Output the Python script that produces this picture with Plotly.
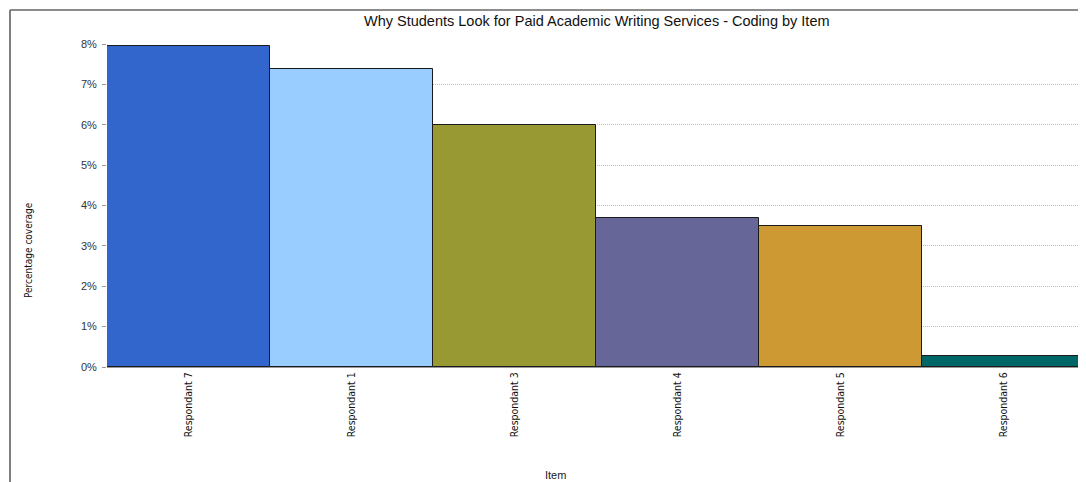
import plotly.graph_objects as go

categories = ["Respondant 7", "Respondant 1", "Respondant 3", "Respondant 4", "Respondant 5", "Respondant 6"]
coverage = [7.95, 7.37, 6.0, 3.68, 3.49, 0.28]
bar_colors = ["#3366CC", "#99CCFF", "#999933", "#666699", "#CC9933", "#006666"]
y_ticks = [0, 1, 2, 3, 4, 5, 6, 7, 8]
y_tick_labels = [f"{v}%" for v in y_ticks]

OFF = 8  # page offset of the figure (body margin)
W, H = 1086, 482
L, T = 99, 36
PLOT_RIGHT, PLOT_BOTTOM = 1077, 359
R = W - PLOT_RIGHT
B = H - PLOT_BOTTOM
pw = PLOT_RIGHT - L
ph = PLOT_BOTTOM - T

def px_x(x):
    return (x - OFF - L) / pw

def px_y(y):
    return (PLOT_BOTTOM - (y - OFF)) / ph

NARROW = "DejaVu Sans Condensed, Liberation Sans Narrow, Arial Narrow, sans-serif"

fig = go.Figure(
    go.Bar(
        x=categories,
        y=coverage,
        width=1,
        marker=dict(color=bar_colors, line=dict(color="#1a1a1a", width=1)),
        hovertemplate="%{x}: %{y}%<extra></extra>",
    )
)

fig.update_layout(
    width=W,
    height=H,
    margin=dict(l=L, r=R, t=T, b=B),
    paper_bgcolor="white",
    plot_bgcolor="white",
    bargap=0,
    showlegend=False,
    font=dict(family="Liberation Sans, Arial, sans-serif", color="#222"),
    xaxis=dict(
        tickangle=-90,
        tickfont=dict(family=NARROW, size=10.5, color="#111"),
        showgrid=False,
        showline=True,
        linecolor="#999",
        linewidth=1,
        ticks="",
        ticklabelstandoff=0,
        range=[-0.5, 5.5],
    ),
    yaxis=dict(
        range=[0, 8],
        tickvals=y_ticks,
        ticktext=y_tick_labels,
        tickfont=dict(size=11, color="#333"),
        showgrid=True,
        gridcolor="#bdbdbd",
        griddash="1px,1px",
        gridwidth=1,
        zeroline=False,
        showline=False,
        ticks="outside",
        ticklen=4,
        tickcolor="#999",
        ticklabelstandoff=3,
    ),
    annotations=[
        dict(
            text="Why Students Look for Paid Academic Writing Services - Coding by Item",
            xref="paper", yref="paper",
            x=px_x(597), y=px_y(21),
            xanchor="center", yanchor="middle",
            showarrow=False,
            font=dict(size=14.5, color="#111"),
        ),
        dict(
            text="Percentage coverage",
            xref="paper", yref="paper",
            x=px_x(28), y=px_y(250),
            xanchor="center", yanchor="middle",
            textangle=-90,
            showarrow=False,
            font=dict(family=NARROW, size=10, color="#111"),
        ),
        dict(
            text="Item",
            xref="paper", yref="paper",
            x=px_x(555), y=px_y(475),
            xanchor="center", yanchor="middle",
            showarrow=False,
            font=dict(size=11, color="#222"),
        ),
    ],
    shapes=[
        dict(type="line", xref="paper", yref="paper",
             x0=px_x(10), x1=px_x(10), y0=px_y(10), y1=px_y(490),
             line=dict(color="#555", width=1.5)),
        dict(type="line", xref="paper", yref="paper",
             x0=px_x(10), x1=px_x(1090), y0=px_y(10), y1=px_y(10),
             line=dict(color="#666", width=1.5)),
    ],
)

fig.write_html("out.html")
